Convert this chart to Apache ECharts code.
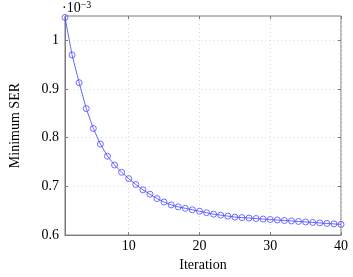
<!DOCTYPE html>
<html>
<head>
<meta charset="utf-8">
<script src="https://cdn.jsdelivr.net/npm/echarts@6/dist/echarts.min.js"></script>
<style>
html,body{margin:0;padding:0;background:#fff;}
#c{width:353px;height:277px;}
</style>
</head>
<body>
<div id="c"></div>
<script>
const iterations = [1,2,3,4,5,6,7,8,9,10,11,12,13,14,15,16,17,18,19,20,21,22,23,24,25,26,27,28,29,30,31,32,33,34,35,36,37,38,39,40];
const minSER = [1.047,0.970,0.913,0.860,0.819,0.787,0.762,0.744,0.729,0.716,0.704,0.693,0.684,0.675,0.668,0.662,0.658,0.655,0.652,0.649,0.646,0.643,0.641,0.639,0.637,0.636,0.635,0.634,0.633,0.632,0.631,0.630,0.629,0.628,0.627,0.626,0.625,0.624,0.623,0.622];
const xTicks = [10,20,30,40];
const yTicks = [0.6,0.7,0.8,0.9,1];

const FONT = 'Liberation Serif';
const FS = 14;
const FRAME = '#7a7a7a';
const chart = echarts.init(document.getElementById('c'), null, {renderer:'canvas'});
const gridLine = {show:true, lineStyle:{color:'#dcdcdc', type:[1,3], width:1}};
const tickStyle = {show:true, inside:true, length:3, lineStyle:{color:FRAME, width:1}};
chart.setOption({
  animation:false,
  backgroundColor:'#fff',
  grid:{left:63, right:12, top:16, bottom:34, show:true, borderColor:FRAME, borderWidth:1, backgroundColor:'transparent'},
  graphic:[{
    type:'text', left:62, top:0,
    style:{
      rich:{
        a:{fontFamily:FONT, fontSize:FS, fill:'#000'},
        b:{fontFamily:FONT, fontSize:10, fill:'#000', verticalAlign:'top', padding:[0,0,6,0]}
      },
      text:'{a|·10}{b|−3}'
    }
  }],
  xAxis:[{
    type:'value', min:1, max:40,
    name:'Iteration', nameLocation:'middle', nameGap:20,
    nameTextStyle:{fontFamily:FONT, fontSize:FS, color:'#000'},
    axisLine:{show:true, lineStyle:{color:FRAME, width:1}},
    axisTick:Object.assign({customValues:xTicks}, tickStyle),
    axisLabel:{customValues:xTicks, fontFamily:FONT, fontSize:FS, color:'#000', margin:4},
    splitLine:gridLine
  },{
    type:'value', min:1, max:40, position:'top',
    axisLine:{show:false},
    axisTick:Object.assign({customValues:xTicks}, tickStyle),
    axisLabel:{show:false},
    splitLine:{show:false}
  }],
  yAxis:[{
    type:'value', min:0.6, max:1.05,
    name:'Minimum SER', nameLocation:'middle', nameGap:43,
    nameTextStyle:{fontFamily:FONT, fontSize:FS, color:'#000'},
    axisLine:{show:true, lineStyle:{color:FRAME, width:1}},
    axisTick:Object.assign({customValues:yTicks}, tickStyle),
    axisLabel:{customValues:yTicks, fontFamily:FONT, fontSize:FS, color:'#000', margin:6,
      formatter:v=>String(Math.round(v*10)/10)},
    splitLine:gridLine
  },{
    type:'value', min:0.6, max:1.05, position:'right',
    axisLine:{show:false},
    axisTick:Object.assign({customValues:yTicks}, tickStyle),
    axisLabel:{show:false},
    splitLine:{show:false}
  }],
  series:[{
    type:'line',
    data:iterations.map((x,i)=>[x,minSER[i]]),
    symbol:'circle', symbolSize:6,
    lineStyle:{color:'#4040ff', width:0.8},
    itemStyle:{color:'rgba(0,0,0,0)', borderColor:'#4a4aff', borderWidth:0.8},
    clip:false
  }]
});
</script>
</body>
</html>
